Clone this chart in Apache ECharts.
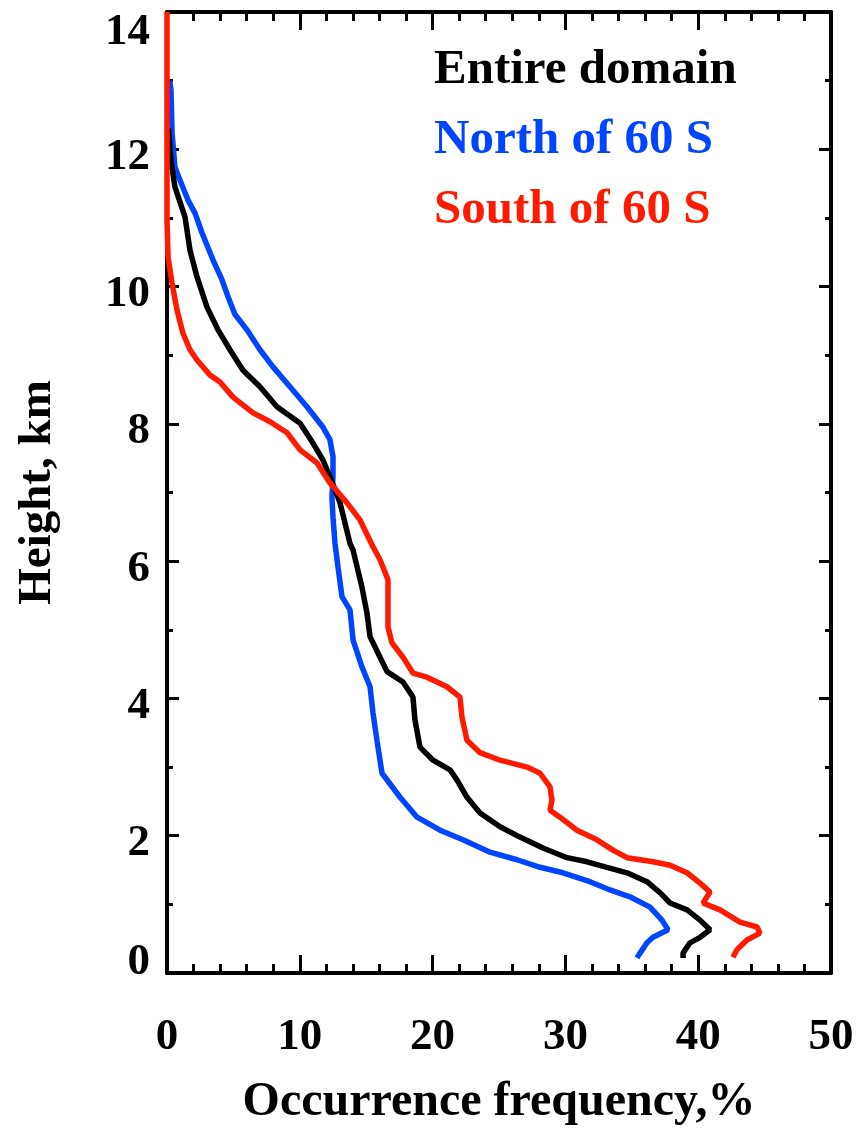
<!DOCTYPE html>
<html>
<head>
<meta charset="utf-8">
<script src="https://cdn.jsdelivr.net/npm/echarts@6/dist/echarts.min.js"></script>
<style>
  html, body { margin: 0; padding: 0; background: #fff; }
  #chart { width: 861px; height: 1136px; }
</style>
</head>
<body>
<div id="chart"></div>
<script>
// occurrence frequency (%) vs height (km)
var seriesNames = ['Entire domain', 'North of 60 S', 'South of 60 S'];

var entireDomain = [
  [0.1, 12.3], [0.3, 11.84], [0.6, 11.45], [1.36, 11.01], [1.73, 10.53], [2.26, 10.14],
  [3.01, 9.7], [3.84, 9.37], [4.74, 9.08], [5.72, 8.78], [7.0, 8.54], [8.28, 8.25],
  [10.02, 8.01], [10.99, 7.72], [11.75, 7.47], [12.27, 7.23], [13.03, 6.85], [13.78, 6.26],
  [14.01, 6.16], [14.68, 5.62], [15.06, 5.24], [15.29, 4.9], [16.04, 4.6], [16.57, 4.39],
  [17.77, 4.24], [18.52, 4.02], [18.67, 3.69], [19.05, 3.29], [20.03, 3.1], [21.31, 2.96],
  [21.84, 2.81], [22.59, 2.56], [23.57, 2.33], [25.08, 2.13], [26.58, 1.98], [28.31, 1.82],
  [30.12, 1.68], [31.63, 1.62], [33.13, 1.54], [34.64, 1.46], [36.14, 1.33], [37.12, 1.17],
  [37.88, 1.02], [39.16, 0.92], [40.14, 0.77], [40.89, 0.63], [40.14, 0.52], [39.38, 0.44],
  [38.86, 0.29], [38.86, 0.22]
];

var northOf60S = [
  [0.2, 13.0], [0.3, 12.86], [0.38, 12.24], [0.6, 11.74], [0.98, 11.55], [1.58, 11.26],
  [2.11, 11.07], [2.64, 10.78], [3.46, 10.39], [4.14, 10.1], [4.6, 9.85], [5.1, 9.6],
  [6.02, 9.37], [7.0, 9.08], [7.98, 8.83], [9.26, 8.54], [10.54, 8.25], [11.75, 7.95],
  [12.27, 7.77], [12.5, 7.52], [12.5, 7.23], [12.42, 6.93], [12.5, 6.64], [12.65, 6.26],
  [12.88, 5.91], [13.18, 5.48], [13.78, 5.29], [14.01, 4.85], [14.68, 4.46], [15.29, 4.17],
  [15.51, 3.79], [15.81, 3.39], [16.19, 2.91], [17.55, 2.56], [18.83, 2.27], [20.56, 2.08],
  [22.29, 1.94], [24.32, 1.76], [26.36, 1.65], [28.09, 1.54], [29.82, 1.46], [31.85, 1.33],
  [33.36, 1.21], [34.86, 1.11], [36.37, 0.96], [37.27, 0.77], [37.73, 0.63], [36.6, 0.52],
  [36.14, 0.44], [35.62, 0.29], [35.39, 0.22]
];

var southOf60S = [
  [0, 14.0], [0, 10.97], [0.08, 10.43], [0.38, 10.05], [0.75, 9.66], [1.2, 9.32],
  [1.73, 9.08], [2.26, 8.93], [3.24, 8.71], [3.99, 8.61], [4.97, 8.39], [6.48, 8.16],
  [7.76, 8.03], [9.04, 7.87], [10.02, 7.62], [11.3, 7.43], [12.27, 7.14], [13.55, 6.85],
  [14.53, 6.6], [15.51, 6.21], [16.04, 6.02], [16.64, 5.73], [16.64, 5.43], [16.64, 5.04],
  [16.94, 4.81], [17.77, 4.6], [18.52, 4.37], [19.58, 4.31], [21.08, 4.17], [22.06, 4.02],
  [22.21, 3.73], [22.59, 3.39], [23.57, 3.21], [25.08, 3.1], [27.11, 3.0], [28.09, 2.91],
  [28.84, 2.71], [28.99, 2.52], [28.84, 2.37], [29.59, 2.27], [30.87, 2.08], [32.38, 1.94],
  [33.58, 1.79], [34.64, 1.68], [36.6, 1.62], [37.88, 1.57], [39.16, 1.46], [40.14, 1.31],
  [40.89, 1.18], [40.36, 1.02], [41.64, 0.92], [43.15, 0.74], [44.43, 0.67], [44.65, 0.58],
  [43.67, 0.48], [42.92, 0.34], [42.62, 0.23]
];

var colors = { entire: '#000000', north: '#0044ff', south: '#ff1a00' };
var serif = "'Liberation Serif', 'Times New Roman', serif";

var myChart = echarts.init(document.getElementById('chart'));

function xAxisOf(pos, labels) {
  return {
    type: 'value', position: pos, min: 0, max: 50, interval: 10,
    axisLine: { show: true, onZero: false, lineStyle: { color: '#000', width: 4 } },
    axisTick: { show: true, inside: true, length: 18, lineStyle: { color: '#000', width: 3 } },
    minorTick: { show: true, splitNumber: 5, length: 9, lineStyle: { color: '#000', width: 3 } },
    splitLine: { show: false },
    axisLabel: labels ? {
      show: true, margin: 42, color: '#000',
      fontFamily: serif, fontWeight: 'bold', fontSize: 45
    } : { show: false },
    name: labels ? 'Occurrence frequency,%' : '',
    nameLocation: 'middle', nameGap: 106,
    nameTextStyle: { color: '#000', fontFamily: serif, fontWeight: 'bold', fontSize: 48 }
  };
}

function yAxisOf(pos, labels) {
  var richBase = { fontFamily: serif, fontWeight: 'bold', fontSize: 45, color: '#000' };
  return {
    type: 'value', position: pos, min: 0, max: 14, interval: 2,
    axisLine: { show: true, onZero: false, lineStyle: { color: '#000', width: 4 } },
    axisTick: { show: true, inside: true, length: 12, lineStyle: { color: '#000', width: 3 } },
    minorTick: { show: true, splitNumber: 2, length: 6, lineStyle: { color: '#000', width: 3 } },
    splitLine: { show: false },
    axisLabel: labels ? {
      show: true, margin: 17, color: '#000',
      fontFamily: serif, fontWeight: 'bold', fontSize: 45,
      formatter: function (v) {
        if (v === 14) return '{t|' + v + '}';
        if (v === 0) return '{b|' + v + '}';
        return '{n|' + v + '}';
      },
      rich: {
        n: Object.assign({ padding: [16, 0, 0, 0] }, richBase),
        t: Object.assign({ padding: [40, 0, 0, 0] }, richBase),
        b: Object.assign({ padding: [0, 0, 22, 0] }, richBase)
      }
    } : { show: false },
    name: labels ? 'Height, km' : '',
    nameLocation: 'middle', nameGap: 106, nameRotate: 90,
    nameTextStyle: { color: '#000', fontFamily: serif, fontWeight: 'bold', fontSize: 47 }
  };
}

function lineOf(name, data, color) {
  return {
    name: name, type: 'line', data: data,
    showSymbol: false, clip: false, smooth: false,
    lineStyle: { color: color, width: 5.5 },
    itemStyle: { color: color },
    emphasis: { disabled: true }
  };
}

var option = {
  animation: false,
  backgroundColor: '#fff',
  grid: { left: 167, right: 30, top: 12, bottom: 163, containLabel: false },
  legend: {
    orient: 'vertical', left: 424, top: 41,
    icon: 'none', itemWidth: 0, itemHeight: 10, itemGap: 21,
    selectedMode: false,
    textStyle: { fontFamily: serif, fontWeight: 'bold', fontSize: 49, lineHeight: 48 },
    data: [
      { name: seriesNames[0], textStyle: { color: colors.entire } },
      { name: seriesNames[1], textStyle: { color: colors.north } },
      { name: seriesNames[2], textStyle: { color: colors.south } }
    ]
  },
  xAxis: [xAxisOf('bottom', true), xAxisOf('top', false)],
  yAxis: [yAxisOf('left', true), yAxisOf('right', false)],
  series: [
    lineOf(seriesNames[1], northOf60S, colors.north),
    lineOf(seriesNames[0], entireDomain, colors.entire),
    lineOf(seriesNames[2], southOf60S, colors.south)
  ]
};

myChart.setOption(option);
</script>
</body>
</html>
